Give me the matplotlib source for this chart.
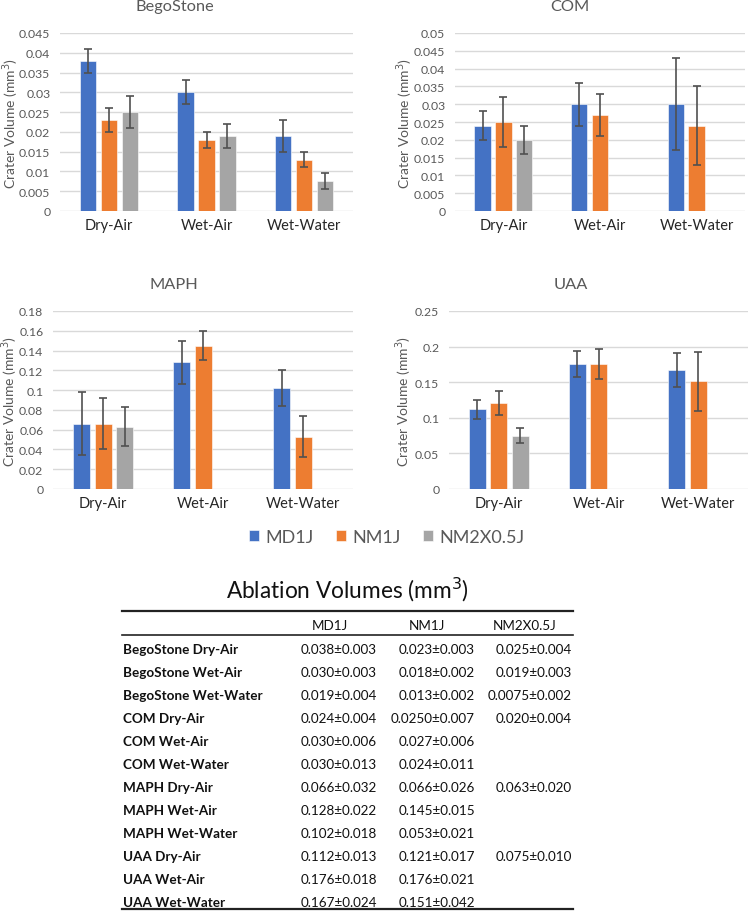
import numpy as np
import matplotlib
matplotlib.use('agg')
import matplotlib.pyplot as plt
from matplotlib.ticker import MultipleLocator, FuncFormatter

plt.rcParams['font.family'] = ['Lato', 'DejaVu Sans']

categories = ['Dry-Air', 'Wet-Air', 'Wet-Water']
series = ['MD1J', 'NM1J', 'NM2X0.5J']
colors = ['#4472C4', '#ED7D31', '#A5A5A5']

# mean crater volumes (mm^3), one list per series, NaN where not measured
bego_md = [0.038, 0.030, 0.019]
bego_nm = [0.023, 0.018, 0.013]
bego_nm2 = [0.025, 0.019, 0.0075]
bego_md_err = [0.003, 0.003, 0.004]
bego_nm_err = [0.003, 0.002, 0.002]
bego_nm2_err = [0.004, 0.003, 0.002]

com_md = [0.024, 0.030, 0.030]
com_nm = [0.025, 0.027, 0.024]
com_nm2 = [0.020, np.nan, np.nan]
com_md_err = [0.004, 0.006, 0.013]
com_nm_err = [0.007, 0.006, 0.011]
com_nm2_err = [0.004, np.nan, np.nan]

maph_md = [0.066, 0.128, 0.102]
maph_nm = [0.066, 0.145, 0.053]
maph_nm2 = [0.063, np.nan, np.nan]
maph_md_err = [0.032, 0.022, 0.018]
maph_nm_err = [0.026, 0.015, 0.021]
maph_nm2_err = [0.020, np.nan, np.nan]

uaa_md = [0.112, 0.176, 0.167]
uaa_nm = [0.121, 0.176, 0.151]
uaa_nm2 = [0.075, np.nan, np.nan]
uaa_md_err = [0.013, 0.018, 0.024]
uaa_nm_err = [0.017, 0.021, 0.042]
uaa_nm2_err = [0.010, np.nan, np.nan]

# table text
table_rows = ['BegoStone Dry-Air', 'BegoStone Wet-Air', 'BegoStone Wet-Water',
	'COM Dry-Air', 'COM Wet-Air', 'COM Wet-Water',
	'MAPH Dry-Air', 'MAPH Wet-Air', 'MAPH Wet-Water',
	'UAA Dry-Air', 'UAA Wet-Air', 'UAA Wet-Water']
table_md = ['0.038±0.003', '0.030±0.003', '0.019±0.004', '0.024±0.004', '0.030±0.006', '0.030±0.013',
	'0.066±0.032', '0.128±0.022', '0.102±0.018', '0.112±0.013', '0.176±0.018', '0.167±0.024']
table_nm = ['0.023±0.003', '0.018±0.002', '0.013±0.002', '0.0250±0.007', '0.027±0.006', '0.024±0.011',
	'0.066±0.026', '0.145±0.015', '0.053±0.021', '0.121±0.017', '0.176±0.021', '0.151±0.042']
table_nm2 = ['0.025±0.004', '0.019±0.003', '0.0075±0.002', '0.020±0.004', '', '',
	'0.063±0.020', '', '', '0.075±0.010', '', '']

W, H = 750., 912.
fig = plt.figure(figsize=(7.5, 9.12), dpi=100)

def px_axes(x0, x1, ytop, ybot):
	return fig.add_axes([x0/W, 1 - ybot/H, (x1 - x0)/W, (ybot - ytop)/H])

def panel(ax, vals, errs, ymax, step, title, tx, ylab_off):
	x = np.arange(len(categories)) + 0.5
	width = 0.17
	offs = [-0.215, 0.0, 0.215]
	bars = []
	for k in range(3):
		b = ax.bar(x + offs[k], vals[k], width, color=colors[k], edgecolor='white', linewidth=0.4, zorder=3)
		ax.errorbar(x + offs[k], vals[k], yerr=errs[k], fmt='none', ecolor='#505050',
			elinewidth=1.2, capsize=3, capthick=1.2, zorder=4)
		bars.append(b)
	ax.set_xlim(0, 3)
	ax.set_ylim(0, ymax)
	ax.set_xticks(x)
	ax.set_xticklabels(categories, fontsize=10.5, color='#262626')
	ax.yaxis.set_major_locator(MultipleLocator(step))
	ax.yaxis.set_major_formatter(FuncFormatter(lambda v, p: '%g' % round(v, 4)))
	ax.tick_params(axis='y', length=0, pad=7, labelsize=8.8, labelcolor='#595959')
	ax.tick_params(axis='x', length=0, pad=5)
	for s in ax.spines.values():
		s.set_visible(False)
	ax.grid(True, axis='y', color='#D9D9D9', lw=1, zorder=0)
	ax.set_axisbelow(True)
	ax.set_ylabel('Crater Volume (mm$^3$)', fontsize=10, color='#595959', va='center')
	pos = ax.get_position()
	ax.yaxis.set_label_coords(-ylab_off/(pos.width*W), 0.5)
	fig.text(tx/W, pos.y1 + 27/H, title, ha='center', va='center', fontsize=11.8, color='#595959')
	return bars

ax1 = px_axes(60, 353, 34, 212)
bars = panel(ax1, [bego_md, bego_nm, bego_nm2], [bego_md_err, bego_nm_err, bego_nm2_err], 0.045, 0.005, 'BegoStone', 175, 49)
ax2 = px_axes(455, 745, 34, 212)
panel(ax2, [com_md, com_nm, com_nm2], [com_md_err, com_nm_err, com_nm2_err], 0.05, 0.005, 'COM', 570, 50)
ax3 = px_axes(53, 353, 312, 490)
panel(ax3, [maph_md, maph_nm, maph_nm2], [maph_md_err, maph_nm_err, maph_nm2_err], 0.18, 0.02, 'MAPH', 174, 43)
ax4 = px_axes(449, 748, 312, 490)
panel(ax4, [uaa_md, uaa_nm, uaa_nm2], [uaa_md_err, uaa_nm_err, uaa_nm2_err], 0.25, 0.05, 'UAA', 571, 45)

leg = fig.legend(bars, series, loc='center', bbox_to_anchor=(387/W, 1 - 538/H), ncol=3, frameon=False,
	fontsize=13, handlelength=0.55, handleheight=0.55, handletextpad=0.35, columnspacing=1.25)
for t in leg.get_texts():
	t.set_color('#595959')

# table, drawn in pixel coordinates
tab = fig.add_axes([0, 0, 1, 1])
tab.set_xlim(0, W)
tab.set_ylim(H, 0)
tab.axis('off')
tab.text(347, 590, 'Ablation Volumes (mm$^3$)', ha='center', va='center', fontsize=16.3, color='#111111')
tab.plot([122, 573], [612, 612], color='#222222', lw=1.6)
tab.plot([122, 573], [636, 636], color='#222222', lw=1.2)
tab.plot([122, 573], [910, 910], color='#222222', lw=1.6)
for name, cx in zip(series, [330, 427, 525]):
	tab.text(cx, 626, name, ha='center', va='center', fontsize=9.7, color='#111111')
for i in range(len(table_rows)):
	y = 650 + 23*i
	tab.text(123, y, table_rows[i], ha='left', va='center', fontsize=9.7, fontweight='bold', color='#111111')
	tab.text(377, y, table_md[i], ha='right', va='center', fontsize=9.7, color='#111111')
	tab.text(475, y, table_nm[i], ha='right', va='center', fontsize=9.7, color='#111111')
	tab.text(572, y, table_nm2[i], ha='right', va='center', fontsize=9.7, color='#111111')

fig.savefig('out.png', dpi=100)
